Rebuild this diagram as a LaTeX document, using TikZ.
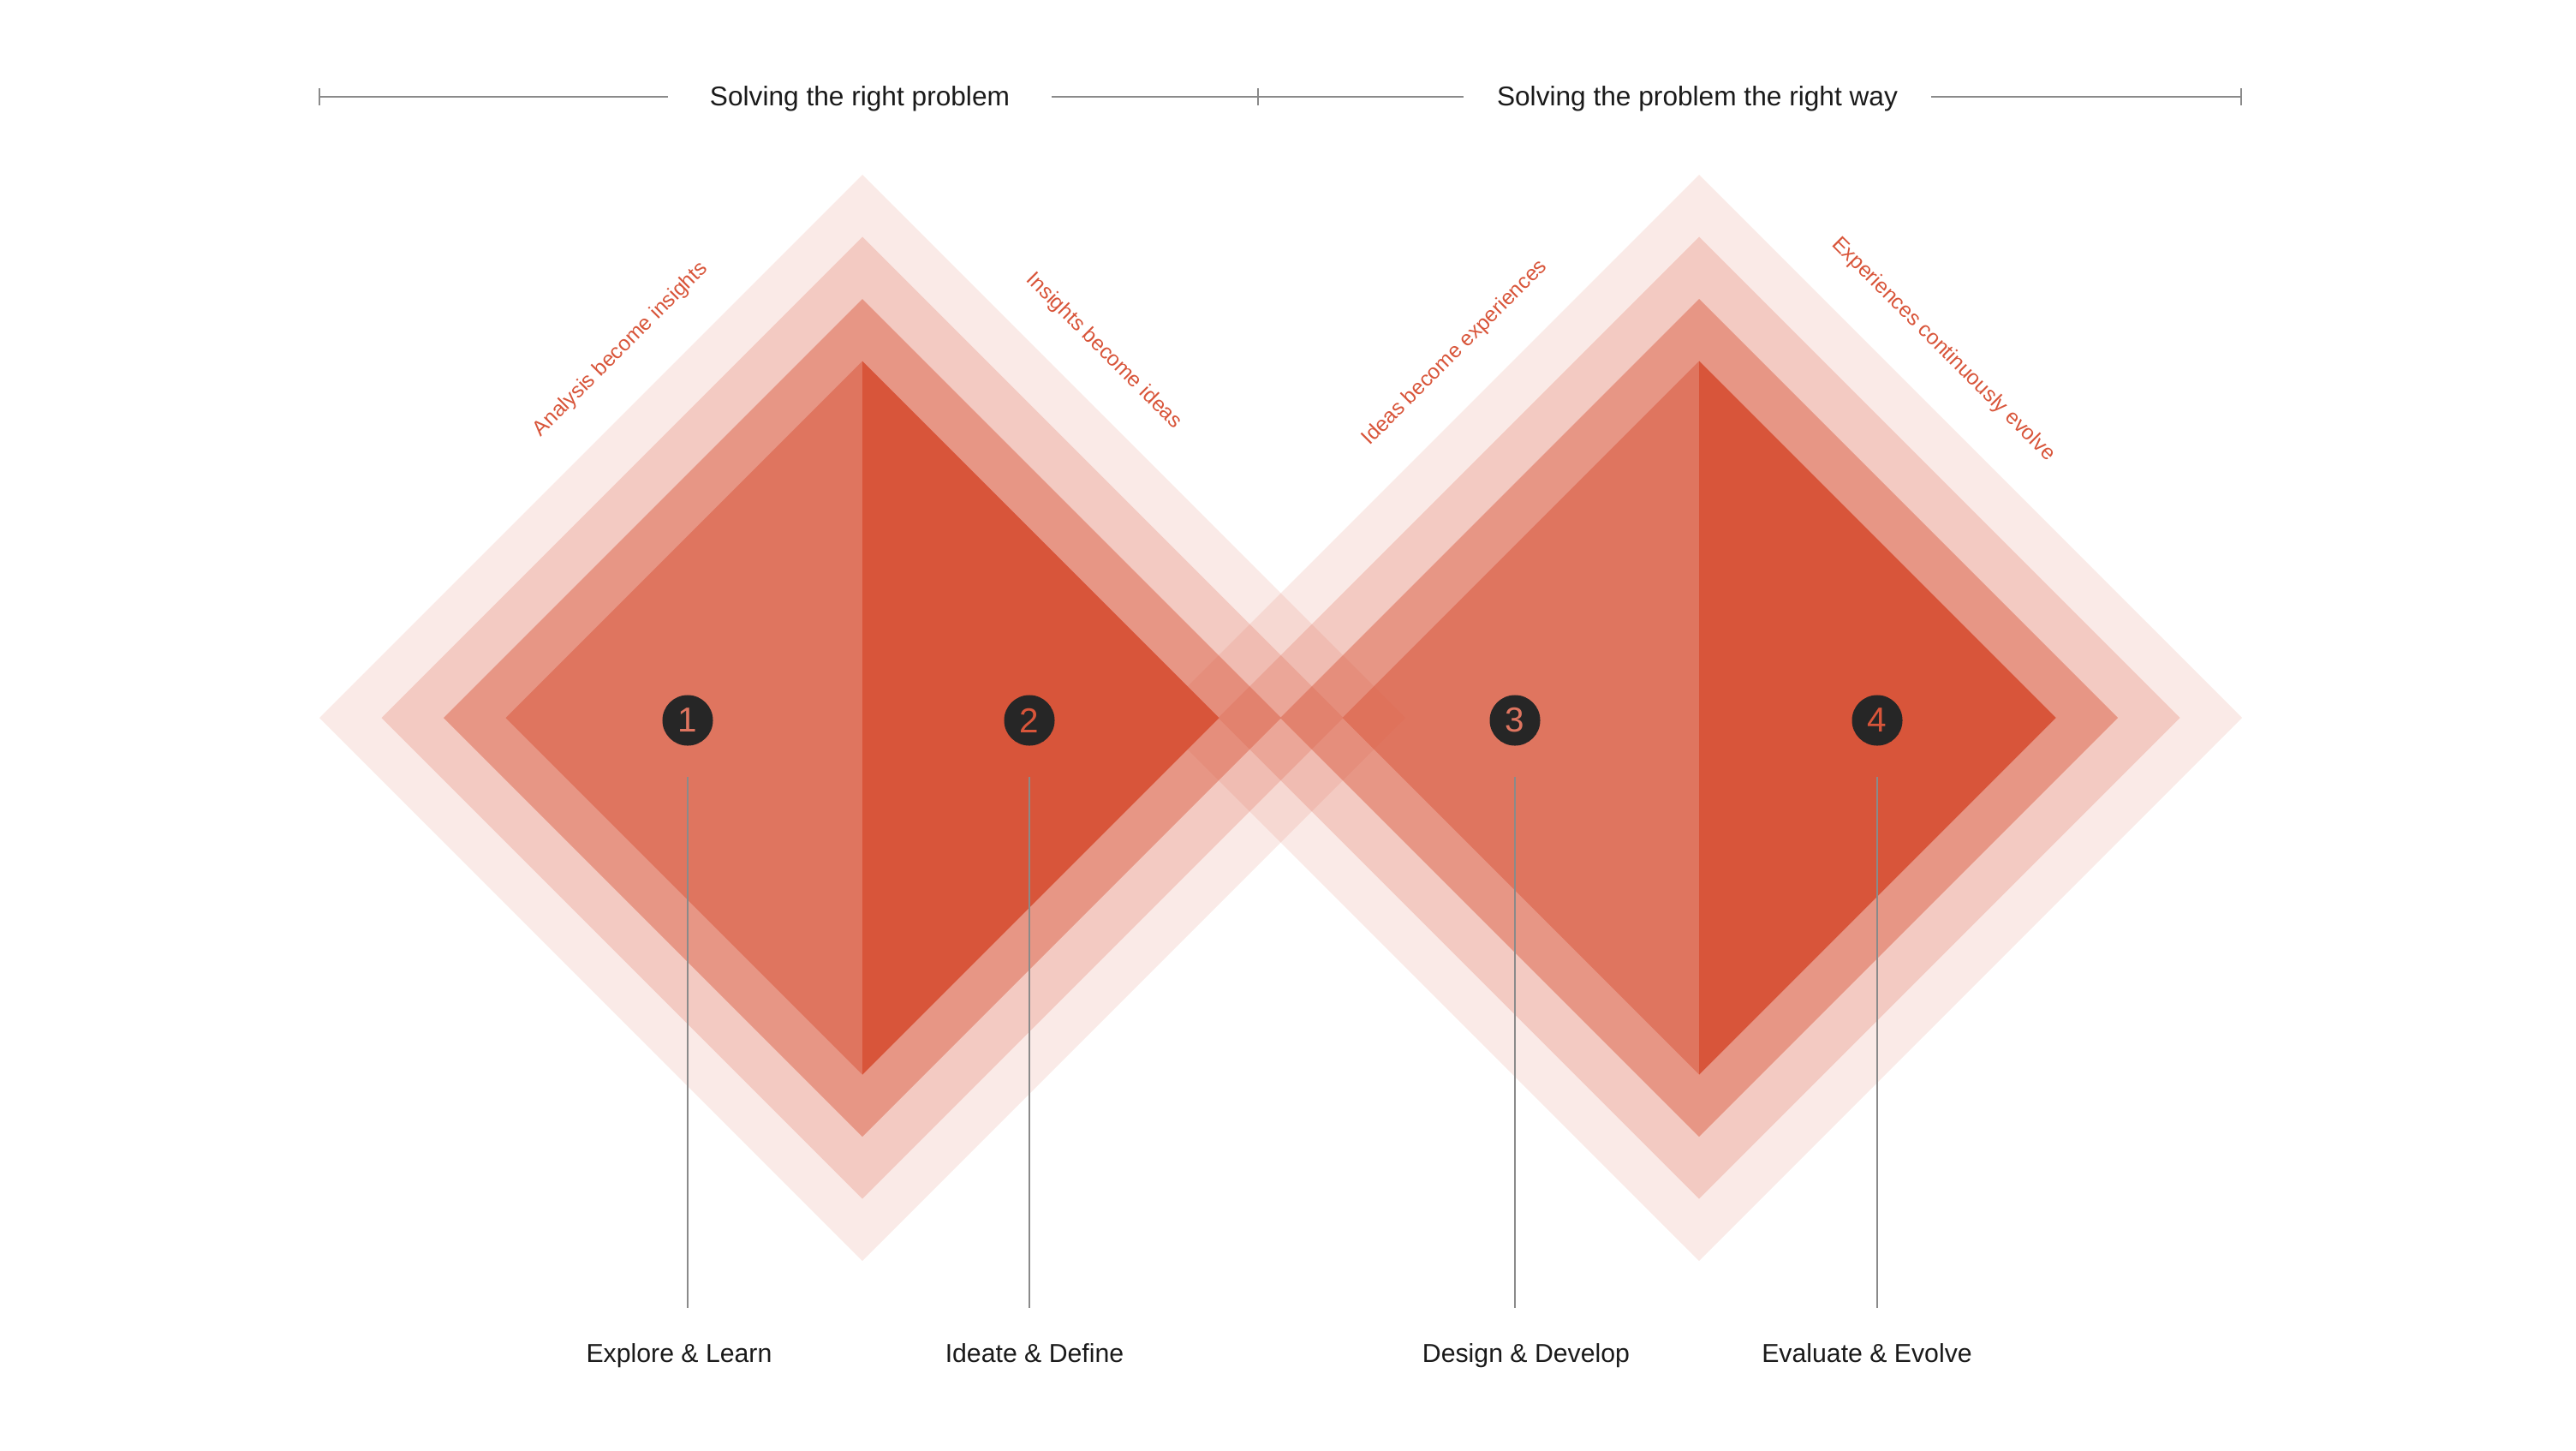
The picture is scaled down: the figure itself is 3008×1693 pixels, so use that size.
\documentclass[tikz,border=0pt]{standalone}
\usepackage{fontspec}
\setmainfont{Liberation Sans}
\usetikzlibrary{calc, positioning}
\definecolor{brand}{HTML}{D8553A}
\definecolor{softbrand}{HTML}{DF7560}
\definecolor{ink}{HTML}{1A1A1A}
\definecolor{dot}{HTML}{262626}
\definecolor{rule}{HTML}{8A8A8A}

\begin{document}
\begin{tikzpicture}[x=0.01cm, y=-0.01cm,
    heading/.style={font=\fontsize{9}{10}\selectfont, text=ink, anchor=base, inner xsep=0pt},
    phase/.style={font=\fontsize{8.6}{10}\selectfont, text=ink, anchor=base, inner sep=0pt},
    edgelabel/.style={font=\fontsize{7}{8}\selectfont, text=brand, inner sep=0pt},
    num/.style={circle, fill=dot, minimum size=0.59cm, inner sep=0pt, font=\fontsize{11.5}{12}\selectfont},
    bar/.style={draw=rule, line width=0.6pt},
    stem/.style={draw=rule, line width=0.5pt, shorten <=0.36cm, shorten >=0.4cm}
]
    \useasboundingbox (0,0) rectangle (3008,1693);

    \foreach \c in {1007, 1984} {
        \foreach \s/\a in {634/0.12, 561.5/0.216, 489/0.449, 416.5/0.5}
            \fill[brand, fill opacity=\a] ({\c-\s}, 838) -- (\c, {838-\s}) -- ({\c+\s}, 838) -- (\c, {838+\s}) -- cycle;
        \fill[brand] (\c, 421.5) -- ({\c+416.5}, 838) -- (\c, 1254.5) -- cycle;
    }

    \coordinate (tickA) at (373, 113);
    \coordinate (tickB) at (1469, 113);
    \coordinate (tickC) at (2617, 113);
    \node[heading, minimum width=4.46cm] (probtext) at (1004, 123) {Solving the right problem};
    \node[heading, minimum width=5.44cm] (waytext) at (1982, 123) {Solving the problem the right way};
    \draw[bar]
        (tickA) -- (tickA -| probtext.west)
        (tickB -| probtext.east) -- (tickB) -- (tickB -| waytext.west)
        (tickC -| waytext.east) -- (tickC);
    \foreach \t in {tickA, tickB, tickC}
        \draw[rule, line width=0.4pt] ($(\t)+(0,-10)$) -- ($(\t)+(0,10)$);

    \node[edgelabel, rotate=45] (ins1) at (725, 408) {Analysis become insights};
    \node[edgelabel, rotate=-45] (ins2) at (1289, 410) {Insights become ideas};
    \node[edgelabel, rotate=45] (ins3) at (1699, 412) {Ideas become experiences};
    \node[edgelabel, rotate=-45] (ins4) at (2269, 408) {Experiences continuously evolve};

    \node[num, text=softbrand] (n1) at (803, 841) {1};
    \node[num, text=brand] (n2) at (1202, 841) {2};
    \node[num, text=softbrand] (n3) at (1769, 841) {3};
    \node[num, text=brand] (n4) at (2192, 841) {4};

    \node[phase] (p1) at (793, 1590) {Explore \& Learn};
    \node[phase] (p2) at (1208, 1590) {Ideate \& Define};
    \node[phase] (p3) at (1782, 1590) {Design \& Develop};
    \node[phase] (p4) at (2180, 1590) {Evaluate \& Evolve};

    \foreach \i in {1,...,4}
        \draw[stem] (n\i.south) -- (n\i.south |- p\i.north);
\end{tikzpicture}
\end{document}
